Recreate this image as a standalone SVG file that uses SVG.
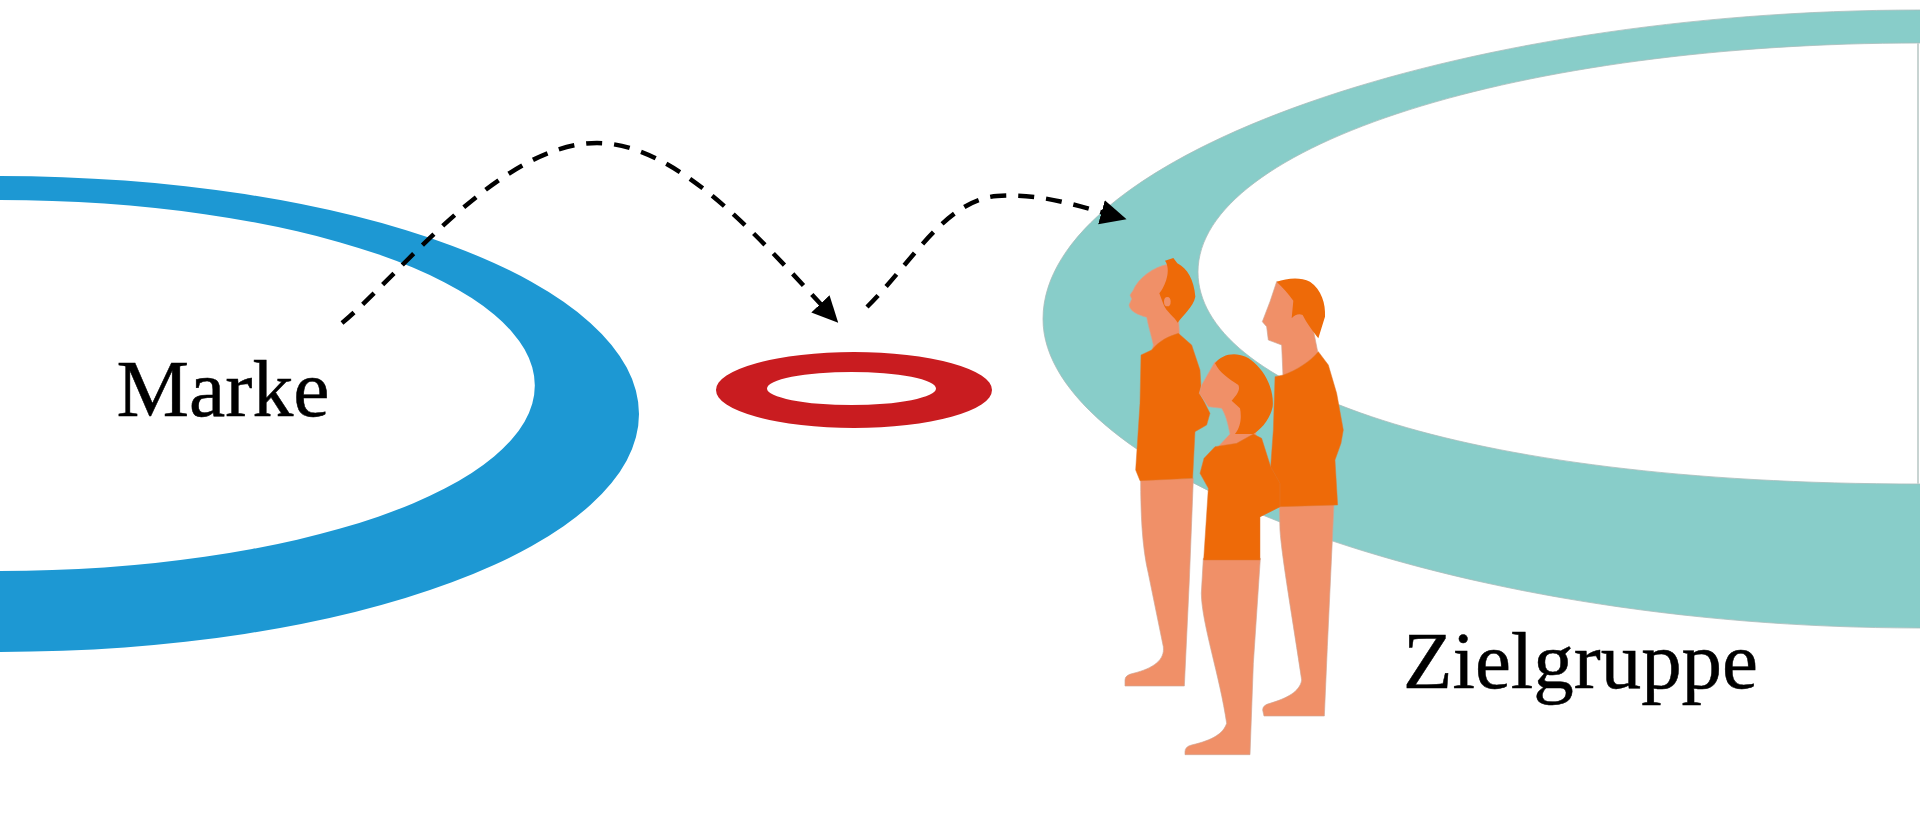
<svg xmlns="http://www.w3.org/2000/svg" width="1920" height="828" viewBox="0 0 1920 828">
<style>
.lbl{font-family:"Liberation Serif",serif;font-size:80px;fill:#000;stroke:#000;stroke-width:.5}
.dash{fill:none;stroke:#000;stroke-width:4.5;stroke-dasharray:16 12}
.skin{fill:#f09068;stroke:#d0a592;stroke-width:2}
.cloth{fill:#ee6a08;stroke:#e07a30;stroke-width:1.5}
.hair{fill:#ee6a08}
</style>
<defs>
<marker id="arr" markerUnits="userSpaceOnUse" markerWidth="28" markerHeight="26" refX="14" refY="12.500" orient="auto"><path d="M0,0L26,12.500L0,25z" fill="#000"/></marker>
</defs>
<rect width="1920" height="828" fill="#fff"/>
<g id="marke">
<path fill="#1d98d3" fill-rule="evenodd" d="M-2,176H0A639,238 0 0 1 0,652H-2ZM-2,200V571H0A535,185.500 0 0 0 0,200Z"/>
<text class="lbl" x="116.500" y="416" textLength="213" lengthAdjust="spacingAndGlyphs">Marke</text>
</g>
<g id="zielgruppe">
<path fill="#88cdc9" stroke="#a9bdbb" stroke-width="0.8" fill-rule="evenodd" d="M1922,10H1920C1455,10 1043,155 1043,319C1043,470 1440,628 1920,628H1922ZM1922,43H1920C1520,43 1198,145 1198,272C1198,385 1450,484 1920,484H1922Z"/>
<rect x="1917" y="43" width="2" height="441" fill="#c8d4d2"/>
<text class="lbl" x="1403" y="688" textLength="355" lengthAdjust="spacingAndGlyphs">Zielgruppe</text>
</g>
<g id="ring">
<path fill="#c91c20" fill-rule="evenodd" d="M716,390A138,38 0 1 1 992,390A138,38 0 1 1 716,390ZM767,388.500A84.500,16.500 0 1 0 936,388.500A84.500,16.500 0 1 0 767,388.500Z"/>
</g>
<g id="people" transform="translate(1080 230) scale(.33333)">
<g id="person-left">
<path class="skin" d="M182,745C182,850 186,950 205,1030L250,1250C255,1290 220,1315 160,1330Q135,1335 135,1350V1368H313L328,1050L340,745Z"/>
<path class="skin" d="M265,103C220,110 175,145 160,180L150,195L155,207L147,225C150,245 175,255 200,262C205,290 215,320 220,345L212,375L300,340L296,270L300,150Z"/>
<path class="hair" d="M255,92L280,84L292,100C322,115 342,150 346,200C340,230 310,255 293,278C285,262 258,245 250,222L238,190C255,170 275,120 255,92Z"/>
<ellipse cx="262" cy="215" rx="10" ry="14" fill="#f09068"/>
<path class="cloth" d="M183,375L215,360C240,330 265,320 295,310L335,345L360,420L365,500L390,550L380,585L345,605L338,745L180,752L167,720L180,520Z"/>
</g>
<g id="person-right">
<path class="skin" d="M598,825L600,900C605,980 640,1180 665,1350C660,1385 620,1405 570,1420Q548,1425 548,1440L552,1458H733L742,1250L762,822Z"/>
<path class="skin" d="M590,155L570,215L547,275L560,290L565,330L605,345L610,460L720,400L700,300L700,180Z"/>
<path class="hair" d="M590,155C620,145 660,140 690,155C725,180 737,220 735,260L715,325C700,305 680,280 668,255C655,250 645,255 635,265L640,212C625,190 610,175 590,155Z"/>
<path class="cloth" d="M585,440L610,435C650,420 690,395 715,365L745,405L770,490L790,600L783,640L765,690L773,825L600,830L540,860L540,720L572,710L580,600Z"/>
</g>
<g id="person-middle">
<path class="skin" d="M370,985L364,1090C365,1180 420,1340 440,1480C430,1510 400,1530 335,1545Q315,1550 315,1565V1574H510L520,1300L541,985Z"/>
<path class="skin" d="M405,395L365,465L358,490L385,530L425,535C440,560 445,590 450,612L405,660L530,625L500,450Z"/>
<path class="hair" d="M405,400C430,365 490,360 530,405C565,440 582,490 578,530C570,570 540,600 520,612L465,612C483,590 485,560 480,535L455,512C470,495 482,480 475,465C445,445 420,430 405,400Z"/>
<path class="cloth" d="M405,650L470,640L520,612L545,625L572,710L600,760L600,830L540,860L540,990H371L385,775L360,730L372,685Z"/>
</g>
</g>
<g id="connectors">
<path class="dash" marker-end="url(#arr)" d="M342,323C400,275 500,143 597,143C680,143 765,245 830,314"/>
<path class="dash" marker-end="url(#arr)" d="M867,307C910,265 945,200 997,196C1040,193 1075,205 1115,216"/>
</g>
</svg>
